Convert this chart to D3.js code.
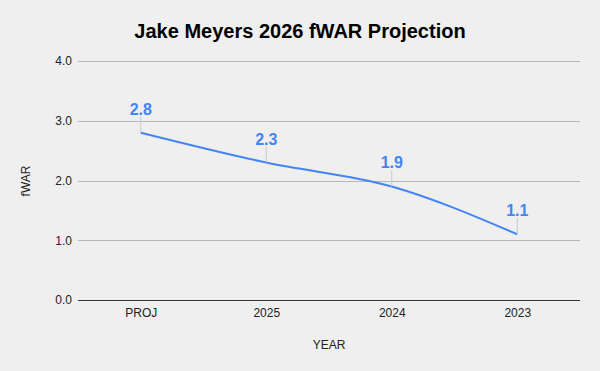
<!DOCTYPE html>
<html>
<head>
<meta charset="utf-8">
<script src="https://cdn.jsdelivr.net/npm/d3@7"></script>
<style>
  body { margin: 0; background: #efefef; }
  text { font-family: "Liberation Sans", Arial, sans-serif; }
</style>
</head>
<body>
<div id="chart"></div>
<script>
var years = ["PROJ", "2025", "2024", "2023"];
var fwar = [2.8, 2.3, 1.9, 1.1];
var yTicks = [0, 1, 2, 3, 4];

var W = 600, H = 371;
var margin = {top: 61, right: 20, bottom: 71, left: 78},
    width = W - margin.left - margin.right,
    height = H - margin.top - margin.bottom;

var svg = d3.select("#chart")
  .append("svg")
    .attr("width", W)
    .attr("height", H)
    .style("background", "#efefef");

// title
svg.append("text")
  .attr("x", 300)
  .attr("y", 38)
  .attr("text-anchor", "middle")
  .style("font-size", "20px")
  .style("font-weight", "bold")
  .style("fill", "#000")
  .text("Jake Meyers 2026 fWAR Projection");

var g = svg.append("g")
  .attr("transform", "translate(" + margin.left + "," + margin.top + ")");

var x = d3.scalePoint().domain(years).range([0, width]).padding(0.5);
var y = d3.scaleLinear().domain([0, 4]).range([height, 0]);

// gridlines
g.selectAll(".grid")
  .data(yTicks)
  .enter().append("line")
    .attr("x1", 0)
    .attr("x2", width)
    .attr("y1", d => y(d) + 0.5)
    .attr("y2", d => y(d) + 0.5)
    .attr("stroke", d => d === 0 ? "#333" : "#b7b7b7")
    .attr("stroke-width", 1)
    .attr("shape-rendering", "crispEdges");

// y axis labels
var yAxis = d3.axisLeft(y).tickValues(yTicks).tickFormat(d3.format(".1f")).tickSize(0).tickPadding(6);
g.append("g").call(yAxis)
  .call(a => a.select(".domain").remove())
  .selectAll("text")
    .style("font-size", "12px")
    .style("fill", "#222")
    .style("font-family", "Liberation Sans, Arial, sans-serif");

// x axis labels
var xAxis = d3.axisBottom(x).tickSize(0).tickPadding(8);
g.append("g")
  .attr("transform", "translate(0," + height + ")")
  .call(xAxis)
  .call(a => a.select(".domain").remove())
  .selectAll("text")
    .style("font-size", "12px")
    .style("fill", "#222")
    .style("font-family", "Liberation Sans, Arial, sans-serif");

// axis titles
svg.append("text")
  .attr("x", 329)
  .attr("y", 349)
  .attr("text-anchor", "middle")
  .style("font-size", "12px")
  .style("fill", "#222")
  .text("YEAR");

svg.append("text")
  .attr("transform", "translate(30,181) rotate(-90)")
  .attr("text-anchor", "middle")
  .style("font-size", "12px")
  .style("fill", "#222")
  .text("fWAR");

// line
var pts = years.map((d, i) => ({year: d, v: fwar[i]}));
g.append("path")
  .datum(pts)
  .attr("fill", "none")
  .attr("stroke", "#4285f4")
  .attr("stroke-width", 2)
  .attr("d", d3.line()
    .x(d => x(d.year))
    .y(d => y(d.v))
    .curve(d3.curveMonotoneX));

// leader lines and labels
g.selectAll(".leader")
  .data(pts)
  .enter().append("line")
    .attr("x1", d => x(d.year))
    .attr("x2", d => x(d.year))
    .attr("y1", d => y(d.v))
    .attr("y2", d => y(d.v) - 16)
    .attr("stroke", "#c8c8c8")
    .attr("stroke-width", 1);

g.selectAll(".lbl")
  .data(pts)
  .enter().append("text")
    .attr("x", d => x(d.year))
    .attr("y", d => y(d.v) - 18)
    .attr("text-anchor", "middle")
    .style("font-size", "16px")
    .style("font-weight", "bold")
    .style("fill", "#4285f4")
    .text(d => d.v.toFixed(1));
</script>
</body>
</html>
